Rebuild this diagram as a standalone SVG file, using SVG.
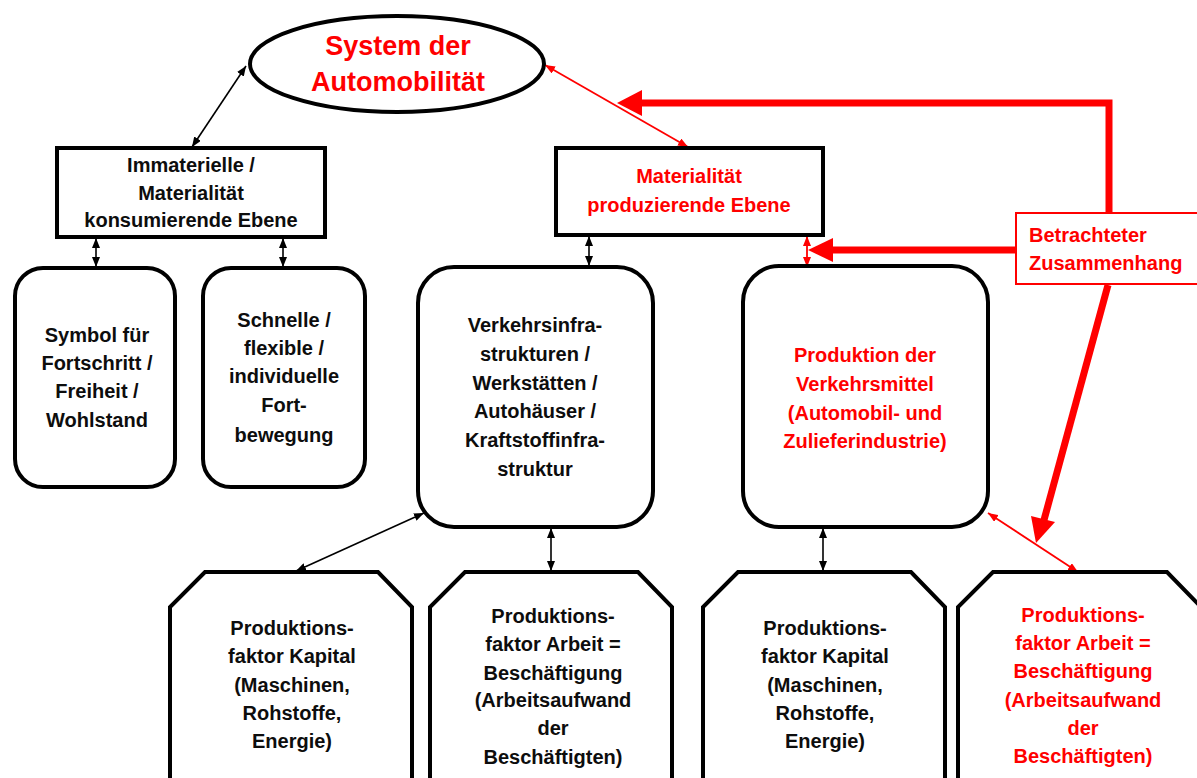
<svg xmlns="http://www.w3.org/2000/svg" width="1197" height="778" viewBox="0 0 1197 778">
<style>
.shape{fill:#fff;stroke:#000;stroke-width:4}
.t{font-family:"Liberation Sans",Arial,sans-serif;font-weight:bold;font-size:20px;fill:#0d0d0d;text-anchor:middle}
.r{fill:#ff0000}
.thin{stroke:#000;stroke-width:1.6;fill:none;marker-start:url(#ab);marker-end:url(#ab)}
.thinr{stroke:#ff0000;stroke-width:1.8;fill:none;marker-start:url(#ar);marker-end:url(#ar)}
.thick{stroke:#ff0000;stroke-width:7;fill:none}
</style>
<defs>
<marker id="ab" viewBox="0 0 10 8" refX="10" refY="4" markerWidth="10" markerHeight="8" markerUnits="userSpaceOnUse" orient="auto-start-reverse"><path d="M0,0 L10,4 L0,8 z" fill="#000"/></marker>
<marker id="ar" viewBox="0 0 10 8" refX="10" refY="4" markerWidth="10" markerHeight="8" markerUnits="userSpaceOnUse" orient="auto-start-reverse"><path d="M0,0 L10,4 L0,8 z" fill="#ff0000"/></marker>
</defs>
<rect width="1197" height="778" fill="#fff"/>

<g id="connectors">
<line class="thin" x1="246" y1="66" x2="192" y2="147"/>
<line class="thin" x1="96" y1="238" x2="96" y2="267"/>
<line class="thin" x1="283" y1="238" x2="283" y2="267"/>
<line class="thin" x1="589" y1="236" x2="589" y2="266"/>
<line class="thin" x1="551" y1="528" x2="551" y2="571"/>
<line class="thin" x1="424" y1="513" x2="296" y2="571"/>
<line class="thin" x1="823" y1="528" x2="823" y2="571"/>
<line class="thinr" x1="545" y1="65" x2="688" y2="147"/>
<line class="thinr" x1="807" y1="236" x2="807" y2="267"/>
<line class="thinr" x1="988" y1="513" x2="1078" y2="572"/>
<polyline class="thick" points="640,103 1109,103 1109,214"/>
<polygon points="617,103 642,90 642,116" fill="#ff0000"/>
<line class="thick" x1="1016" y1="250" x2="831" y2="250"/>
<polygon points="808,250 833,238 833,262" fill="#ff0000"/>
<line class="thick" x1="1108" y1="285" x2="1044" y2="520"/>
<polygon points="1036,543 1055,522 1031,516" fill="#ff0000"/>
</g>

<g id="system">
<ellipse class="shape" cx="397" cy="64" rx="147" ry="48"/>
<text class="t r" x="398" y="55" style="font-size:27px">System der</text>
<text class="t r" x="398" y="91" style="font-size:27px">Automobilität</text>
</g>

<g id="immateriell">
<rect class="shape" x="57" y="148" width="268" height="89"/>
<text class="t" x="191" y="172">Immaterielle /</text>
<text class="t" x="191" y="200">Materialität</text>
<text class="t" x="191" y="227">konsumierende Ebene</text>
</g>

<g id="materialitaet">
<rect class="shape" x="556" y="148" width="267" height="87"/>
<text class="t r" x="689" y="183">Materialität</text>
<text class="t r" x="689" y="212">produzierende Ebene</text>
</g>

<g id="betrachteter">
<rect x="1016" y="213" width="186" height="71" fill="#fff" stroke="#ff0000" stroke-width="2"/>
<text class="t r" x="1029" y="242" style="text-anchor:start">Betrachteter</text>
<text class="t r" x="1029" y="270" style="text-anchor:start">Zusammenhang</text>
</g>

<g id="symbol">
<rect class="shape" x="15" y="268" width="160" height="219" rx="28"/>
<text class="t" x="97" y="342">Symbol für</text>
<text class="t" x="97" y="370">Fortschritt /</text>
<text class="t" x="97" y="398">Freiheit /</text>
<text class="t" x="97" y="427">Wohlstand</text>
</g>

<g id="schnelle">
<rect class="shape" x="203" y="268" width="162" height="219" rx="28"/>
<text class="t" x="284" y="327">Schnelle /</text>
<text class="t" x="284" y="355">flexible /</text>
<text class="t" x="284" y="383">individuelle</text>
<text class="t" x="284" y="412">Fort-</text>
<text class="t" x="284" y="442">bewegung</text>
</g>

<g id="verkehrsinfra">
<rect class="shape" x="418" y="267" width="235" height="260" rx="36"/>
<text class="t" x="535" y="332">Verkehrsinfra-</text>
<text class="t" x="535" y="361">strukturen /</text>
<text class="t" x="535" y="390">Werkstätten /</text>
<text class="t" x="535" y="418">Autohäuser /</text>
<text class="t" x="535" y="447">Kraftstoffinfra-</text>
<text class="t" x="535" y="476">struktur</text>
</g>

<g id="produktion">
<rect class="shape" x="743" y="266" width="245" height="261" rx="36"/>
<text class="t r" x="865" y="362">Produktion der</text>
<text class="t r" x="865" y="391">Verkehrsmittel</text>
<text class="t r" x="865" y="420">(Automobil- und</text>
<text class="t r" x="865" y="448">Zulieferindustrie)</text>
</g>

<g id="kapital1">
<polygon class="shape" points="205,572 378,572 412,607 412,800 170,800 170,607"/>
<text class="t" x="292" y="635">Produktions-</text>
<text class="t" x="292" y="663">faktor Kapital</text>
<text class="t" x="292" y="692">(Maschinen,</text>
<text class="t" x="292" y="720">Rohstoffe,</text>
<text class="t" x="292" y="748">Energie)</text>
</g>

<g id="arbeit1">
<polygon class="shape" points="465,572 638,572 672,607 672,800 430,800 430,607"/>
<text class="t" x="553" y="623">Produktions-</text>
<text class="t" x="553" y="651">faktor Arbeit =</text>
<text class="t" x="553" y="680">Beschäftigung</text>
<text class="t" x="553" y="707">(Arbeitsaufwand</text>
<text class="t" x="553" y="735">der</text>
<text class="t" x="553" y="764">Beschäftigten)</text>
</g>

<g id="kapital2">
<polygon class="shape" points="738,572 911,572 945,607 945,800 703,800 703,607"/>
<text class="t" x="825" y="635">Produktions-</text>
<text class="t" x="825" y="663">faktor Kapital</text>
<text class="t" x="825" y="692">(Maschinen,</text>
<text class="t" x="825" y="720">Rohstoffe,</text>
<text class="t" x="825" y="748">Energie)</text>
</g>

<g id="arbeit2">
<polygon class="shape" points="993,572 1167,572 1201,607 1201,800 958,800 958,607"/>
<text class="t r" x="1083" y="622">Produktions-</text>
<text class="t r" x="1083" y="650">faktor Arbeit =</text>
<text class="t r" x="1083" y="678">Beschäftigung</text>
<text class="t r" x="1083" y="707">(Arbeitsaufwand</text>
<text class="t r" x="1083" y="735">der</text>
<text class="t r" x="1083" y="763">Beschäftigten)</text>
</g>
</svg>
